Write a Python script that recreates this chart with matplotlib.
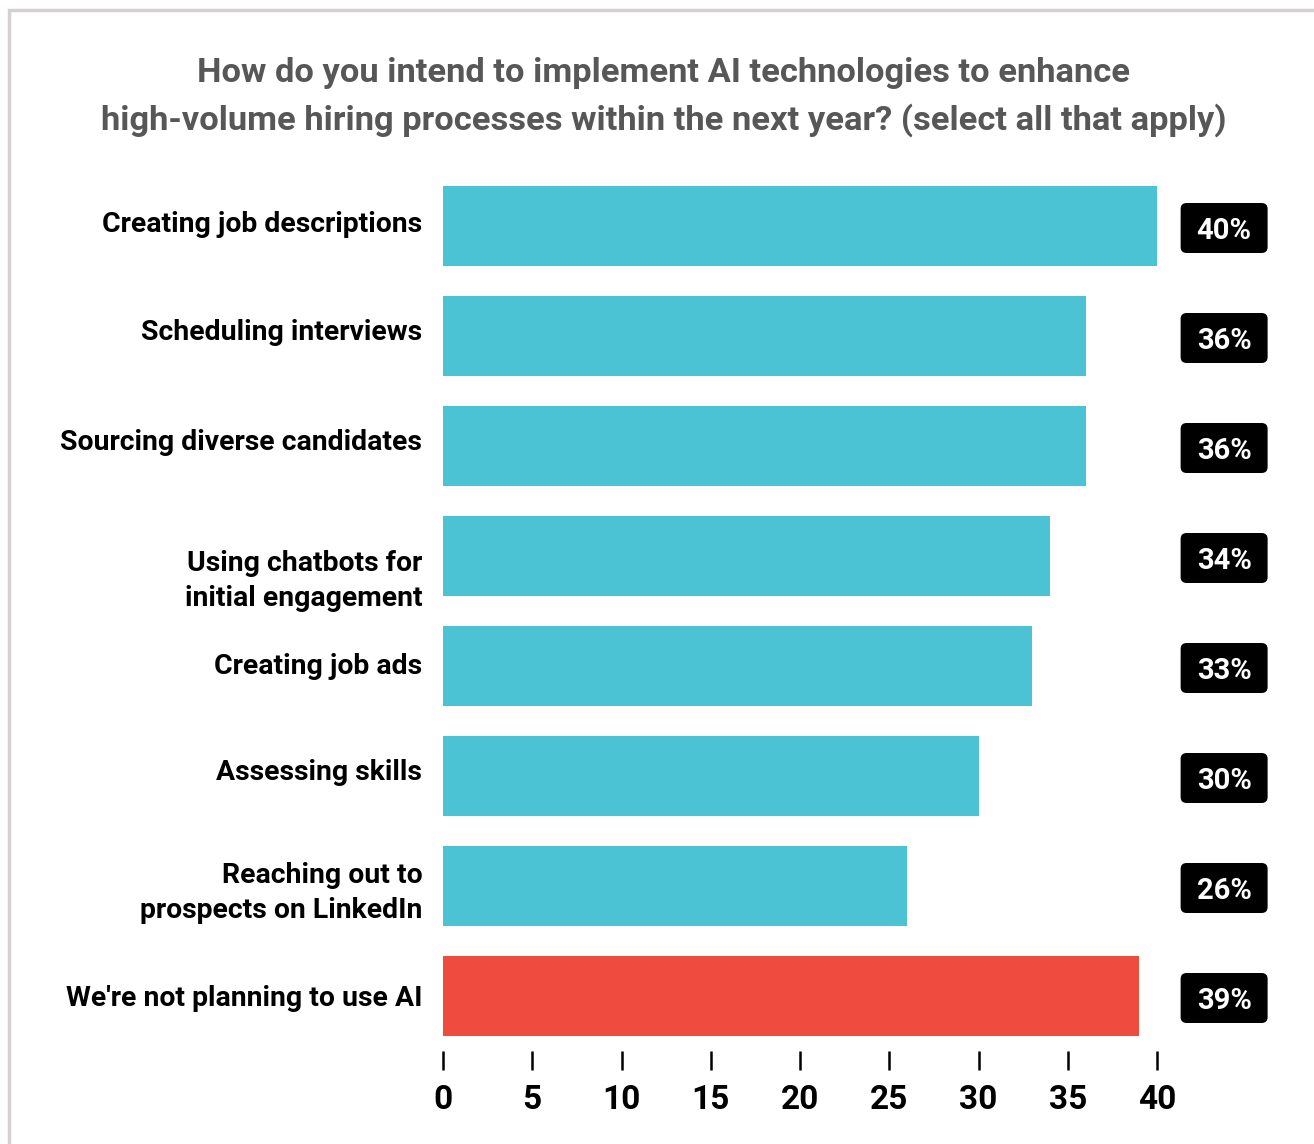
import matplotlib
matplotlib.use("Agg")
import matplotlib.pyplot as plt
from matplotlib.patches import Rectangle, FancyBboxPatch
import matplotlib.transforms as mtransforms

plt.rcParams['font.family'] = ['Roboto', 'DejaVu Sans']

# survey answers, top to bottom
categories = ['Creating job descriptions', 'Scheduling interviews',
              'Sourcing diverse candidates', 'Using chatbots for\ninitial engagement',
              'Creating job ads', 'Assessing skills',
              'Reaching out to\nprospects on LinkedIn', "We're not planning to use AI"]
values = [40, 36, 36, 34, 33, 30, 26, 39]
bar_colors = ['#4bc3d4'] * 7 + ['#ef4b3e']
x_ticks = [0, 5, 10, 15, 20, 25, 30, 35, 40]

title = ('How do you intend to implement AI technologies to enhance\n'
         'high-volume hiring processes within the next year? (select all that apply)')

fig = plt.figure(figsize=(13.14, 11.44), dpi=100)
W, H = 1314, 1144

# light grey frame round the card
fig.patches.append(Rectangle((8.5 / W, -0.1), 1.2, 1 - 10 / H + 0.1,
                             transform=fig.transFigure, fill=False,
                             edgecolor='#d5cfcf', linewidth=2.5))

fig.text(0.505, 1 - 97 / H, title, ha='center', va='center', fontsize=24.8,
         fontweight='bold', color='#575757', linespacing=1.5)

ax_w, ax_h = 714, 880
ax = fig.add_axes([443 / W, 1 - 1051 / H, ax_w / W, ax_h / H])
ypos = list(range(len(categories)))
ax.barh(ypos, values, height=0.727, color=bar_colors)
ax.set_xlim(0, 40)
ax.set_ylim(len(categories) - 0.5, -0.5)

ax.set_yticks(ypos)
ax.set_yticklabels(categories, fontsize=20.4, fontweight='bold', color='black',
                   ha='right', linespacing=1.4)
ax.tick_params(axis='y', length=0, pad=15)
# single-line labels sit a touch high, the chatbot one lower than its bar
shifts = [0.05, 0.06, 0.06, -0.18, 0.02, 0.06, 0.0, 0.0]
for lbl, dy in zip(ax.get_yticklabels(), shifts):
    lbl.set_transform(lbl.get_transform() +
                      mtransforms.ScaledTranslation(0, dy, fig.dpi_scale_trans))

ax.set_xticks(x_ticks)
ax.set_xticklabels([str(t) for t in x_ticks], fontsize=24, fontweight='bold')
ax.tick_params(axis='x', length=14, width=1.8, pad=10, color='black')
for s in ax.spines.values():
    s.set_visible(False)

# value badges to the right of the plot (x in axes fraction, y in data)
trans = mtransforms.blended_transform_factory(ax.transAxes, ax.transData)
px_x = 1 / ax_w               # one pixel in axes fraction
px_y = len(categories) / ax_h  # one pixel in data units
bw, bh = 87 * px_x, 50 * px_y
bx = 1.094
for y, v in zip(ypos, values):
    yc = y + 2 * px_y
    badge = FancyBboxPatch((bx - bw / 2, yc - bh / 2), bw, bh,
                           boxstyle=f'round,pad=0,rounding_size={6 * px_x}',
                           mutation_aspect=px_y / px_x,
                           transform=trans, facecolor='black', edgecolor='none',
                           clip_on=False)
    ax.add_patch(badge)
    ax.text(bx, yc, f'{v}%', transform=trans, ha='center', va='center_baseline',
            fontsize=21, fontweight='bold', color='white', clip_on=False)

fig.savefig('out.png', dpi=100, facecolor='white')
